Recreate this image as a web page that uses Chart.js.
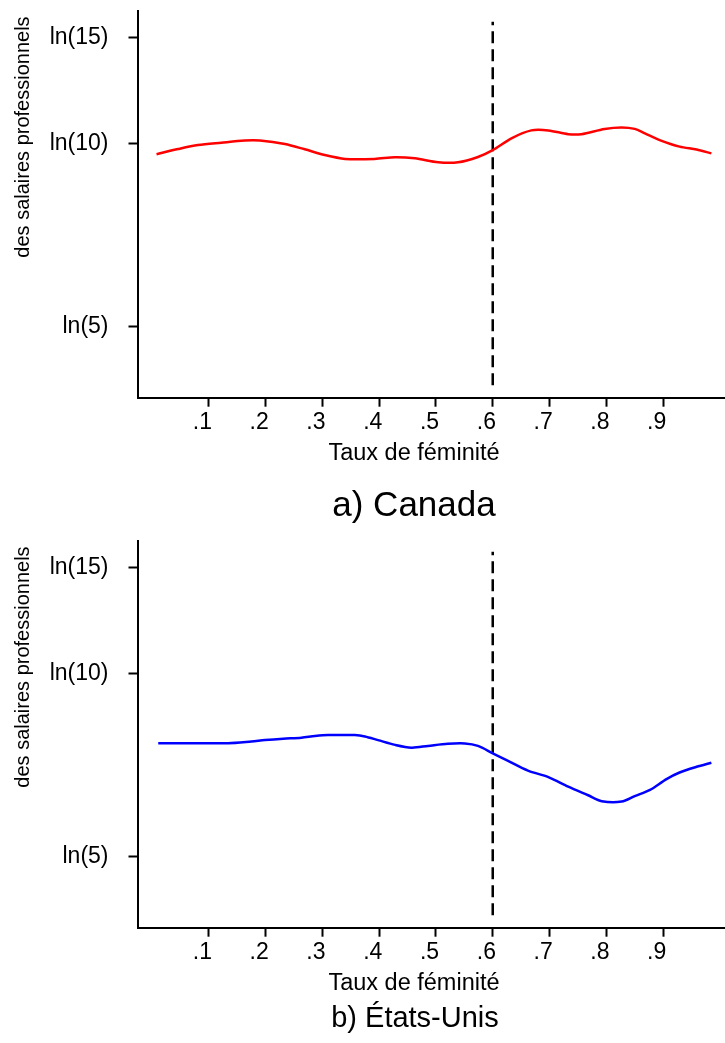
<!DOCTYPE html>
<html>
<head>
<meta charset="utf-8">
<script src="https://cdn.jsdelivr.net/npm/chart.js@4/dist/chart.umd.min.js"></script>
<style>
  body { margin: 0; background: #fff; font-family: "Liberation Sans", Arial, sans-serif; }
  #page { position: relative; width: 725px; height: 1043px; overflow: hidden; }
  .panel { position: absolute; left: 0; width: 725px; height: 470px; }
  .txt { position: absolute; white-space: nowrap; color: #000; transform: translate(-50%, -50%); line-height: 1; }
  .ytitle { transform: translate(-50%, -50%) rotate(-90deg); font-size: 20px; }
  .xtitle { font-size: 23.5px; }
</style>
</head>
<body>
<div id="page">
  <div class="panel" style="top:0"><canvas id="c1" width="725" height="470"></canvas></div>
  <div class="panel" style="top:530px"><canvas id="c2" width="725" height="470"></canvas></div>
  <div class="txt ytitle" id="yt1" style="left:22px;top:137px"></div>
  <div class="txt xtitle" id="xt1" style="left:414px;top:453px"></div>
  <div class="txt" id="pt1" style="left:414px;top:503px;font-size:35px"></div>
  <div class="txt ytitle" id="yt2" style="left:22px;top:667px"></div>
  <div class="txt xtitle" id="xt2" style="left:414px;top:983px"></div>
  <div class="txt" id="pt2" style="left:415px;top:1017px;font-size:29px"></div>
</div>
<script>
// données (salaire en niveau, axe log)
const canadaX = [0.008, 0.046, 0.081, 0.122, 0.163, 0.190, 0.234, 0.269, 0.304, 0.340, 0.392, 0.428, 0.463, 0.504, 0.539, 0.574, 0.600, 0.633, 0.668, 0.698, 0.733, 0.756, 0.797, 0.827, 0.850, 0.868, 0.894, 0.929, 0.959, 0.985];
const canadaY = [9.62, 9.81, 9.96, 10.05, 10.13, 10.13, 10.0, 9.80, 9.59, 9.45, 9.45, 9.51, 9.47, 9.33, 9.33, 9.52, 9.77, 10.22, 10.53, 10.53, 10.38, 10.38, 10.59, 10.65, 10.59, 10.41, 10.15, 9.90, 9.79, 9.65];

const usX = [0.011, 0.134, 0.175, 0.199, 0.231, 0.263, 0.287, 0.310, 0.357, 0.375, 0.398, 0.428, 0.457, 0.486, 0.521, 0.551, 0.574, 0.600, 0.627, 0.662, 0.698, 0.733, 0.768, 0.792, 0.827, 0.850, 0.877, 0.906, 0.929, 0.959, 0.985];
const usY = [7.69, 7.69, 7.74, 7.78, 7.82, 7.85, 7.90, 7.93, 7.93, 7.89, 7.78, 7.64, 7.56, 7.61, 7.67, 7.68, 7.61, 7.40, 7.19, 6.93, 6.76, 6.52, 6.31, 6.17, 6.16, 6.29, 6.44, 6.71, 6.88, 7.03, 7.14];

const cutoffX = 0.6;
const cutoffY = [4.0, 15.9];

const xTicks = [0.1, 0.2, 0.3, 0.4, 0.5, 0.6, 0.7, 0.8, 0.9];
const xTickLabels = ['.1', '.2', '.3', '.4', '.5', '.6', '.7', '.8', '.9'];
const yTicks = [5, 10, 15];
const yTickLabels = ['ln(5)', 'ln(10)', 'ln(15)'];

const xTitle = 'Taux de féminité';
const yTitle = 'des salaires professionnels';
const panelTitles = ['a) Canada', 'b) États-Unis'];

function noPad(s) {
    s.paddingTop = 0; s.paddingBottom = 0; s.paddingLeft = 0; s.paddingRight = 0;
}

function makeChart(canvasId, xs, ys, color) {
    const pts = xs.map((x, i) => ({ x: x, y: ys[i] }));
    const axisStyle = {
        border: { display: true, color: '#000', width: 2 },
        grid: { drawOnChartArea: false, drawTicks: true, tickLength: 9, tickColor: '#000', tickWidth: 2 }
    };
    return new Chart(document.getElementById(canvasId), {
        type: 'line',
        data: {
            datasets: [{
                data: pts,
                borderColor: color,
                borderWidth: 2.5,
                pointRadius: 0,
                tension: 0.3,
                fill: false
            }, {
                data: cutoffY.map(y => ({ x: cutoffX, y: y })),
                borderColor: '#000',
                borderWidth: 2.5,
                borderDash: [12, 6],
                pointRadius: 0,
                fill: false
            }]
        },
        options: {
            responsive: false,
            animation: false,
            layout: { padding: { top: 11, right: 0, bottom: 0, left: 0 } },
            plugins: { legend: { display: false }, tooltip: { enabled: false } },
            scales: {
                x: {
                    type: 'linear',
                    min: -0.0255,
                    max: 1.009,
                    ...axisStyle,
                    afterBuildTicks: s => { s.ticks = xTicks.map(v => ({ value: v })); },
                    afterFit: s => { s.height = 72.3; noPad(s); },
                    ticks: {
                        autoSkip: false,
                        maxRotation: 0,
                        padding: 2,
                        color: '#000',
                        font: { family: 'Liberation Sans', size: 23 },
                        // les libellés sont un peu décalés à gauche des graduations
                        callback: (v, i) => xTickLabels[i] + '  '
                    }
                },
                y: {
                    type: 'logarithmic',
                    min: 3.816,
                    max: 16.57,
                    ...axisStyle,
                    afterBuildTicks: s => { s.ticks = yTicks.map(v => ({ value: v })); },
                    afterFit: s => { s.width = 137.5; noPad(s); },
                    ticks: {
                        autoSkip: false,
                        padding: 20,
                        color: '#000',
                        font: { family: 'Liberation Sans', size: 23 },
                        callback: v => yTickLabels[yTicks.indexOf(v)]
                    }
                }
            }
        }
    });
}

makeChart('c1', canadaX, canadaY, '#ff0000');
makeChart('c2', usX, usY, '#0000ff');

['yt1', 'yt2'].forEach(id => { document.getElementById(id).textContent = yTitle; });
['xt1', 'xt2'].forEach(id => { document.getElementById(id).textContent = xTitle; });
document.getElementById('pt1').textContent = panelTitles[0];
document.getElementById('pt2').textContent = panelTitles[1];
</script>
</body>
</html>
